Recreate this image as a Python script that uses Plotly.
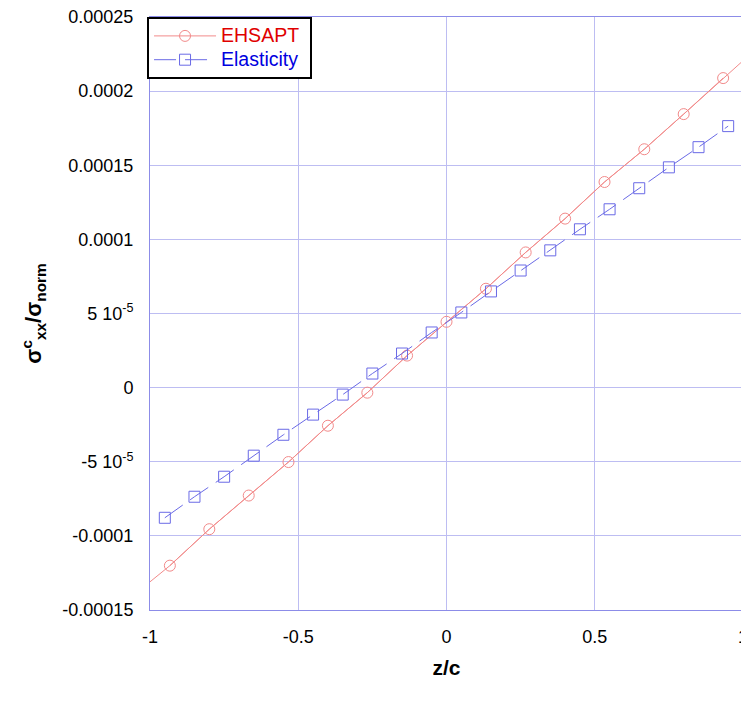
import plotly.graph_objects as go

# EHSAPT (circles)
ehsapt_x = [-0.933, -0.8, -0.667, -0.533, -0.4, -0.267, -0.133, 0.0,
            0.133, 0.267, 0.4, 0.533, 0.667, 0.8, 0.933]
ehsapt_y = [-1.201e-4, -9.55e-5, -7.28e-5, -5.02e-5, -2.57e-5, -0.34e-5, 2.16e-5, 4.44e-5,
            6.67e-5, 9.12e-5, 1.140e-4, 1.387e-4, 1.608e-4, 1.845e-4, 2.088e-4]
# EHSAPT continuous curve end values
ehsapt_end_x = [-1.0, 1.0]
ehsapt_end_y = [-1.31e-4, 2.205e-4]

# Elasticity (squares)
elas_x = [-0.95, -0.85, -0.75, -0.65, -0.55, -0.45, -0.35, -0.25, -0.15, -0.05,
          0.05, 0.15, 0.25, 0.35, 0.45, 0.55, 0.65, 0.75, 0.85, 0.95]
elas_y = [-8.78e-5, -7.36e-5, -6.01e-5, -4.59e-5, -3.18e-5, -1.82e-5, -0.47e-5, 0.95e-5, 2.30e-5, 3.72e-5,
          5.07e-5, 6.49e-5, 7.90e-5, 9.26e-5, 1.068e-4, 1.203e-4, 1.345e-4, 1.486e-4, 1.622e-4, 1.764e-4]

y_tickvals = [-0.00015, -0.0001, -0.00005, 0, 0.00005, 0.0001, 0.00015, 0.0002, 0.00025]
y_ticktext = ["-0.00015", "-0.0001", "-5 10<sup>-5</sup>", "0", "5 10<sup>-5</sup>",
              "0.0001", "0.00015", "0.0002", "0.00025"]
x_tickvals = [-1, -0.5, 0, 0.5, 1]
x_ticktext = ["-1", "-0.5", "0", "0.5", "1"]

red_line = "#f28a8a"
blue_line = "#6a6ae6"
grid_col = "#bdbdf2"
axis_col = "#8c8ce8"

fig = go.Figure()

line_x = [ehsapt_end_x[0]] + ehsapt_x + [ehsapt_end_x[1]]
line_y = [ehsapt_end_y[0]] + ehsapt_y + [ehsapt_end_y[1]]
fig.add_trace(go.Scatter(x=line_x, y=line_y, mode="lines", showlegend=False,
                         line=dict(color=red_line, width=1), hoverinfo="skip"))
fig.add_trace(go.Scatter(x=ehsapt_x, y=ehsapt_y, mode="lines+markers",
                         name="<span style='color:#e00000;font-size:19.5px'>EHSAPT&nbsp;</span>",
                         line=dict(color=red_line, width=1),
                         marker=dict(symbol="circle-open", size=11, color=red_line,
                                     line=dict(width=1, color=red_line))))
fig.add_trace(go.Scatter(x=elas_x, y=elas_y, mode="lines+markers",
                         name="<span style='color:#0000e0;font-size:19.5px'>Elasticity</span>",
                         line=dict(color=blue_line, width=1, dash="22px,9px"),
                         marker=dict(symbol="square-open", size=11, color=blue_line,
                                     line=dict(width=1, color=blue_line))))

fig.update_layout(
    width=749, height=705,
    margin=dict(l=142, r=14, t=9, b=103, autoexpand=False),
    paper_bgcolor="white", plot_bgcolor="white",
    font=dict(family="Liberation Sans, Arial, sans-serif", size=18, color="black"),
    showlegend=True,
    legend=dict(x=-0.005, y=1.0, xanchor="left", yanchor="top",
                bgcolor="white", bordercolor="black", borderwidth=2,
                font=dict(size=16), itemwidth=62, tracegroupgap=0),
    xaxis=dict(range=[-1, 1], tickvals=x_tickvals, ticktext=x_ticktext,
               showgrid=True, gridcolor=grid_col, gridwidth=1,
               showline=True, linecolor=axis_col, linewidth=1, mirror=True,
               zeroline=False, ticks="", ticklabelstandoff=10, automargin=False,
               ticklabeloverflow="allow",
               title=dict(text="<b>z/c</b>", font=dict(size=21), standoff=14)),
    yaxis=dict(range=[-0.00015, 0.00025], tickvals=y_tickvals, ticktext=y_ticktext,
               showgrid=True, gridcolor=grid_col, gridwidth=1,
               showline=True, linecolor=axis_col, linewidth=1, mirror=True,
               zeroline=False, ticks="", ticklabelstandoff=12, automargin=False,
               ticklabeloverflow="allow"),
)

fig.add_annotation(text="<b>σ<sup>c</sup><sub>xx</sub>/σ<sub>norm</sub></b>",
                   xref="paper", yref="paper", x=-0.197, y=0.5,
                   xanchor="center", yanchor="middle", textangle=-90,
                   showarrow=False, font=dict(size=22, color="black"))

fig.write_html("out.html")
